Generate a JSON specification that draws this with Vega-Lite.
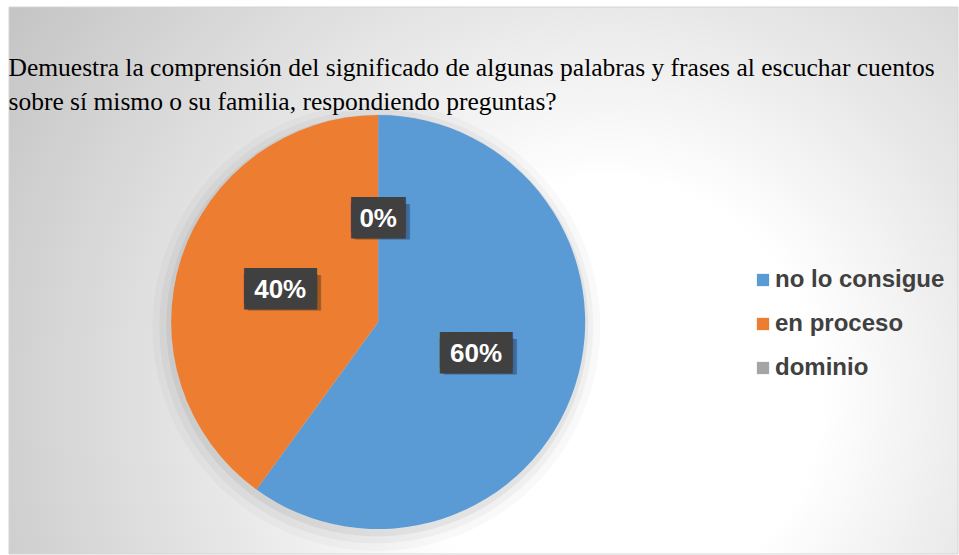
{
  "$schema": "https://vega.github.io/schema/vega-lite/v6.json",
  "autosize": {"type": "fit", "contains": "padding"},
  "width": 959,
  "height": 555,
  "padding": {"left": 8, "top": 6, "right": 0, "bottom": 0},
  "background": "white",
  "title": {
    "text": ["Demuestra la comprensión del significado de algunas palabras y frases al escuchar cuentos", "sobre sí mismo o su familia, respondiendo preguntas?"],
    "anchor": "start",
    "orient": "top",
    "baseline": "bottom",
    "offset": -134,
    "font": "Liberation Serif",
    "fontSize": 25.5,
    "fontWeight": "normal",
    "color": "#000000",
    "lineHeight": 34
  },
  "datasets": {
    "respuestas": [
      {"categoria": "no lo consigue", "pct": 0.6, "orden": 1},
      {"categoria": "en proceso", "pct": 0.4, "orden": 2},
      {"categoria": "dominio", "pct": 0.0, "orden": 3}
    ],
    "fondo": [{"panel": "fondo"}]
  },
  "layer": [
    {
      "data": {"name": "fondo"},
      "mark": {
        "type": "rect",
        "stroke": "#d4d4d4",
        "strokeWidth": 1,
        "fill": {
          "gradient": "radial",
          "x1": 0.63, "y1": 0.62, "r1": 0,
          "x2": 0.63, "y2": 0.62, "r2": 0.75,
          "stops": [
            {"offset": 0, "color": "#ffffff"},
            {"offset": 0.3, "color": "#ffffff"},
            {"offset": 0.55, "color": "#e8e8e8"},
            {"offset": 0.8, "color": "#d4d4d4"},
            {"offset": 1, "color": "#c4c4c4"}
          ]
        }
      },
      "encoding": {}
    },
    {
      "data": {"name": "respuestas"},
      "layer": [
        {
          "mark": {"type": "arc", "radius": 224, "fill": "#000000", "opacity": 0.025, "x": {"expr": "width*0.387"}, "y": {"expr": "height*0.585"}},
          "encoding": {
            "theta": {"field": "pct", "type": "quantitative", "stack": true},
            "order": {"field": "orden", "type": "quantitative"}
          }
        },
        {
          "mark": {"type": "arc", "radius": 217, "fill": "#000000", "opacity": 0.035, "x": {"expr": "width*0.387"}, "y": {"expr": "height*0.584"}},
          "encoding": {
            "theta": {"field": "pct", "type": "quantitative", "stack": true},
            "order": {"field": "orden", "type": "quantitative"}
          }
        },
        {
          "mark": {"type": "arc", "radius": 211, "fill": "#000000", "opacity": 0.05, "x": {"expr": "width*0.388"}, "y": {"expr": "height*0.582"}},
          "encoding": {
            "theta": {"field": "pct", "type": "quantitative", "stack": true},
            "order": {"field": "orden", "type": "quantitative"}
          }
        },
        {
          "mark": {"type": "arc", "radius": 207, "x": {"expr": "width*0.389"}, "y": {"expr": "height*0.576"}},
          "encoding": {
            "theta": {"field": "pct", "type": "quantitative", "stack": true},
            "order": {"field": "orden", "type": "quantitative"},
            "color": {
              "field": "categoria",
              "type": "nominal",
              "scale": {"domain": ["no lo consigue", "en proceso", "dominio"], "range": ["#5B9BD5", "#ED7D31", "#A5A5A5"]},
              "legend": {
                "orient": "none",
                "legendX": 742,
                "legendY": 261,
                "title": null,
                "symbolType": "square",
                "symbolSize": 150,
                "symbolStrokeWidth": 0,
                "labelFont": "Liberation Sans",
                "labelFontSize": 24,
                "labelFontWeight": "bold",
                "labelColor": "#404040",
                "labelOffset": 0,
                "rowPadding": 20,
                "padding": 0,
                "labelLimit": 300
              }
            }
          }
        },
        {
          "mark": {"type": "text", "radius": 103, "font": "DejaVu Sans Mono", "fontSize": 30, "fill": "#000000", "opacity": 0.3, "dx": 4, "dy": 4, "align": "center", "baseline": "middle", "x": {"expr": "width*0.389"}, "y": {"expr": "height*0.576"}},
          "encoding": {
            "theta": {"field": "pct", "type": "quantitative", "stack": true},
            "order": {"field": "orden", "type": "quantitative"},
            "text": {"value": {"expr": "datum.pct == 0 ? '███' : '████'"}}
          }
        },
        {
          "mark": {"type": "text", "radius": 103, "font": "DejaVu Sans Mono", "fontSize": 30, "fill": "#404040", "dy": -3, "align": "center", "baseline": "middle", "x": {"expr": "width*0.389"}, "y": {"expr": "height*0.576"}},
          "encoding": {
            "theta": {"field": "pct", "type": "quantitative", "stack": true},
            "order": {"field": "orden", "type": "quantitative"},
            "text": {"value": {"expr": "datum.pct == 0 ? '███' : '████'"}}
          }
        },
        {
          "mark": {"type": "text", "radius": 103, "font": "DejaVu Sans Mono", "fontSize": 30, "fill": "#404040", "dy": 3, "align": "center", "baseline": "middle", "x": {"expr": "width*0.389"}, "y": {"expr": "height*0.576"}},
          "encoding": {
            "theta": {"field": "pct", "type": "quantitative", "stack": true},
            "order": {"field": "orden", "type": "quantitative"},
            "text": {"value": {"expr": "datum.pct == 0 ? '███' : '████'"}}
          }
        },
        {
          "mark": {"type": "text", "radius": 103, "font": "Liberation Sans", "fontSize": 26, "fontWeight": "bold", "fill": "#ffffff", "align": "center", "baseline": "middle", "x": {"expr": "width*0.389"}, "y": {"expr": "height*0.576"}},
          "encoding": {
            "theta": {"field": "pct", "type": "quantitative", "stack": true},
            "order": {"field": "orden", "type": "quantitative"},
            "text": {"field": "pct", "type": "quantitative", "format": ".0%"}
          }
        }
      ]
    }
  ],
  "config": {
    "view": {"stroke": null}
  }
}
